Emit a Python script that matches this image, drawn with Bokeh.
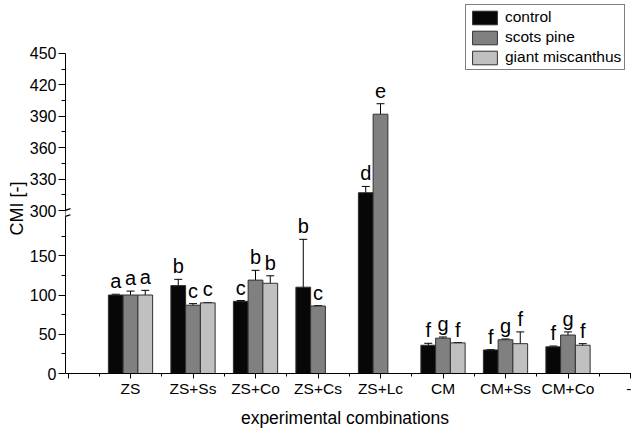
import numpy as np
from bokeh.plotting import figure
from bokeh.layouts import column
from bokeh.models import (ColumnDataSource, Range1d, FixedTicker, CustomJSTickFormatter,
                          Whisker, TeeHead, Legend, LegendItem, Arrow, Title, Div)
from bokeh.core.properties import value
from bokeh.embed import file_html
from bokeh.resources import INLINE

# ---------------- data ----------------
categories = ["ZS", "ZS+Ss", "ZS+Co", "ZS+Cs", "ZS+Lc", "CM", "CM+Ss", "CM+Co"]
end_label = "-"
series_names = ["control", "scots pine", "giant miscanthus"]

control = [100, 112, 92, 110, 317, 36, 30, 34]
control_err = [1, 8, 1, 61, 6, 2.5, 0.5, 1]
control_letters = ["a", "b", "c", "b", "d", "f", "f", "f"]

scots_pine = [100, 87, 119, 86, 392, 45, 43, 49]
scots_pine_err = [5, 2, 12.5, 0.5, 10, 1.5, 1, 4]
scots_pine_letters = ["a", "c", "b", "c", "e", "g", "g", "g"]

giant_miscanthus = [100, 90, 115, None, None, 39, 38, 36]
giant_miscanthus_err = [6, 0.5, 9.5, None, None, 0.5, 15, 2]
giant_miscanthus_letters = ["a", "c", "b", None, None, "f", "f", "f"]

y_major = [0, 50, 100, 150, 300, 330, 360, 390, 420, 450]
y_minor = [25, 75, 125, 175, 315, 345, 375, 405, 435]

x_title = "experimental combinations"
y_title = "CMI [-]"

# ---------------- broken-axis transform ----------------
LOW_MAX = 200.0     # top of lower segment
UP_MIN = 300.0      # bottom of upper segment
BREAK_POS = 207.7   # transformed position of UP_MIN
UP_K = 1.3339       # upper segment scale relative to lower


def T(v):
    v = np.asarray(v, dtype=float)
    mid = LOW_MAX + (v - LOW_MAX) * (BREAK_POS - LOW_MAX) / (UP_MIN - LOW_MAX)
    up = BREAK_POS + (v - UP_MIN) * UP_K
    return np.where(v <= LOW_MAX, v, np.where(v >= UP_MIN, up, mid))


FONT = "Liberation Sans"
colors = ["#070707", "#808080", "#c0c0c0"]
bar_w = 0.236
offsets = [-bar_w, 0.0, bar_w]

FIG_H = 408
FRAME_H = 373
Y_END = 475.3
PX = Y_END / FRAME_H          # data units per pixel (transformed)
LETTER_GAP = 13 * PX

p = figure(width=631, height=FIG_H,
           x_range=Range1d(-0.04, 9.016), y_range=Range1d(0, Y_END),
           output_backend="svg", toolbar_location=None,
           min_border_left=65, min_border_right=0, min_border_top=0,
           min_border_bottom=FIG_H - FRAME_H)
p.xgrid.visible = False
p.ygrid.visible = False
p.outline_line_color = None
p.background_fill_color = "white"
p.border_fill_color = "white"

# ---------------- bars, error bars, letters ----------------
all_vals = [control, scots_pine, giant_miscanthus]
all_errs = [control_err, scots_pine_err, giant_miscanthus_err]
all_letters = [control_letters, scots_pine_letters, giant_miscanthus_letters]

legend_items = []
for j, name in enumerate(series_names):
    xs, tops, ups, los, lets = [], [], [], [], []
    for i, v in enumerate(all_vals[j]):
        if v is None:
            continue
        e = all_errs[j][i]
        xs.append(i + 1 + offsets[j])
        tops.append(float(T(v)))
        ups.append(float(T(v + e)))
        los.append(float(T(v - e)))
        lets.append(all_letters[j][i])
    src = ColumnDataSource(dict(x=xs, top=tops, upper=ups, lower=los, letter=lets,
                                ly=[u + LETTER_GAP for u in ups]))
    r = p.vbar(x="x", top="top", bottom=0, width=bar_w, source=src,
               fill_color=colors[j], line_color="#303030", line_width=1)
    legend_items.append(LegendItem(label=name, renderers=[r]))
    w = Whisker(base="x", upper="upper", lower="lower", source=src,
                line_color="black", line_width=1,
                upper_head=TeeHead(size=8, line_color="black", line_width=1),
                lower_head=TeeHead(size=8, line_color="black", line_width=1))
    p.add_layout(w)
    p.text(x="x", y="ly", text="letter", source=src,
           text_align="center", text_baseline="alphabetic",
           text_font=value(FONT), text_font_size="20px", text_color="black")

# ---------------- axes ----------------
xa = p.xaxis[0]
xa.ticker = FixedTicker(ticks=list(range(0, len(categories) + 2)),
                        minor_ticks=[k + 0.5 for k in range(0, len(categories) + 1)])
overrides = {0: ""}
for i, c in enumerate(categories):
    overrides[i + 1] = c
overrides[len(categories) + 1] = end_label
xa.major_label_overrides = overrides
xa.axis_line_color = "black"
xa.major_tick_line_color = "black"
xa.minor_tick_line_color = "black"
xa.major_tick_out = 5
xa.major_tick_in = 0
xa.minor_tick_out = 3
xa.minor_tick_in = 0
xa.major_label_standoff = 1
xa.major_label_text_font = FONT
xa.major_label_text_font_size = "15.5px"
xa.major_label_text_color = "black"

ya = p.yaxis[0]
ya.ticker = FixedTicker(ticks=[float(t) for t in T(y_major)],
                        minor_ticks=[float(t) for t in T(y_minor)])
ya.formatter = CustomJSTickFormatter(
    args=dict(B=BREAK_POS, K=UP_K, LM=LOW_MAX, UM=UP_MIN),
    code="const v = tick <= LM + 0.5 ? tick : UM + (tick - B) / K; return Math.round(v).toString();")
ya.bounds = (0, float(T(450)))
ya.axis_line_color = "black"
ya.major_tick_line_color = "black"
ya.minor_tick_line_color = "black"
ya.major_tick_out = 7
ya.major_tick_in = 0
ya.minor_tick_out = 4
ya.minor_tick_in = 0
ya.major_label_standoff = 2
ya.major_label_text_font = FONT
ya.major_label_text_font_size = "16px"
ya.major_label_text_color = "black"

p.add_layout(Title(text=y_title, align="left", offset=138,
                   text_font=FONT, text_font_size="18px", text_font_style="normal",
                   text_color="black", standoff=0), "left")

# ---------------- axis break marks ----------------
s = FRAME_H / Y_END
c_up = float(T(UP_MIN)) * s
c_lo = float(T(LOW_MAX)) * s
p.add_layout(Arrow(x_start=0, y_start=c_lo, x_end=0, y_end=c_up,
                   start_units="screen", end_units="screen", start=None, end=None,
                   line_color="white", line_width=3))
for c in (c_up, c_lo):
    p.add_layout(Arrow(x_start=-6, y_start=c - 1.8, x_end=5, y_end=c + 1.8,
                       start_units="screen", end_units="screen", start=None, end=None,
                       line_color="black", line_width=1.3))

# ---------------- legend ----------------
legend = Legend(items=legend_items, location=(400, 303),
                glyph_width=31, glyph_height=17, label_height=17,
                label_standoff=5, padding=3, spacing=2, margin=0,
                border_line_color="black", border_line_width=1,
                background_fill_color="white", background_fill_alpha=1,
                label_text_font=FONT, label_text_font_size="15.5px",
                label_text_color="black")
p.add_layout(legend)

# ---------------- x title below the plot ----------------
xdiv = Div(text=('<div style="width:572px;margin-left:59px;text-align:center;'
                 'font-family:\'Liberation Sans\';font-size:17.5px;line-height:20px;'
                 'color:black;white-space:nowrap;">' + x_title + '</div>'),
           width=631, height=430 - FIG_H, margin=0)

layout = column(p, xdiv, spacing=0)
open("out.html", "w").write(file_html(layout, INLINE))
